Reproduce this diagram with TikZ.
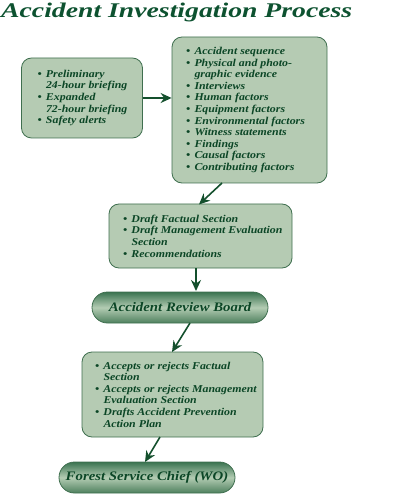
\documentclass[tikz,border=0pt]{standalone}
\usepackage{fontspec}
\setmainfont{Liberation Serif}
\newfontfamily\boxfont[FakeStretch=1.13]{Liberation Serif}
\newfontfamily\pillfont[FakeStretch=1.14]{Liberation Serif}
\newfontfamily\titlefont[FakeStretch=1.15]{Liberation Serif}
\usetikzlibrary{arrows.meta,shapes.misc}
\definecolor{boxfill}{HTML}{B5CBB3}
\definecolor{boxline}{HTML}{3F6F4F}
\definecolor{txtgreen}{HTML}{0B4626}
\definecolor{titlegreen}{HTML}{0D5230}
\definecolor{arrowgreen}{HTML}{14502D}
\definecolor{pilldark}{HTML}{3A7350}
\definecolor{pilllight}{HTML}{B3CCB3}
\definecolor{pillbottom}{HTML}{4E805E}
\newcommand{\bitem}[1]{\par\hangindent=8.5pt\hangafter=1\noindent\makebox[8.5pt][l]{\textbullet}#1}
\newcommand{\boxtext}[2]{\parbox{\dimexpr#1+60pt\relax}{#2}\hspace{-60pt}}
\tikzset{
  infobox/.style={draw=boxline, line width=0.8pt, fill=boxfill, rounded corners=10pt,
    text=txtgreen, font=\boxfont\bfseries\itshape\fontsize{10.5}{11.6}\selectfont,
    align=left, inner sep=0pt, anchor=center},
  pill/.style={rounded rectangle, draw=boxline, line width=0.8pt,
    top color=pilldark, bottom color=pillbottom, middle color=pilllight,
    text=txtgreen, font=\pillfont\bfseries\itshape\fontsize{13}{15}\selectfont,
    inner sep=0pt},
  flow/.style={draw=arrowgreen, line width=1.6pt, -{Stealth[length=11pt,width=10pt]}}
}
\begin{document}
\begin{tikzpicture}[x=1pt,y=-1pt]
\useasboundingbox (0,0) rectangle (407,502);
\node[anchor=base west, text=titlegreen, inner sep=0pt] (title) at (1,17.5)
  {\resizebox{351pt}{14.5pt}{\titlefont\bfseries\itshape Accident Investigation Process}};

\node[infobox, minimum width=121pt, minimum height=80pt] (b1) at (82,98)
  {\boxtext{89pt}{\bitem{Preliminary\\24-hour briefing}\bitem{Expanded\\72-hour briefing}\bitem{Safety alerts}}};
\node[infobox, minimum width=155pt, minimum height=146pt] (b2) at (249.5,110)
  {\boxtext{127pt}{\bitem{Accident sequence}\bitem{Physical and photo-\\graphic evidence}\bitem{Interviews}\bitem{Human factors}\bitem{Equipment factors}\bitem{Environmental factors}\bitem{Witness statements}\bitem{Findings}\bitem{Causal factors}\bitem{Contributing factors}}};
\node[infobox, minimum width=183pt, minimum height=64pt] (b3) at (200.5,236)
  {\boxtext{155pt}{\bitem{Draft Factual Section}\bitem{Draft Management Evaluation\\Section}\bitem{Recommendations}}};
\node[pill, minimum width=176pt, minimum height=31pt] (arb) at (180,307.5)
  {Accident Review Board};
\node[infobox, minimum width=181pt, minimum height=85pt] (b4) at (172.5,394.5)
  {\boxtext{155pt}{\bitem{Accepts or rejects Factual\\Section}\bitem{Accepts or rejects Management\\Evaluation Section}\bitem{Drafts Accident Prevention\\Action Plan}}};
\node[pill, minimum width=176pt, minimum height=31pt] (fsc) at (147,477.5)
  {Forest Service Chief (WO)};

\coordinate (s2) at (222,183);
\coordinate (t2) at (199,204.5);
\coordinate (s3) at (196,268);
\coordinate (t3) at (196,291);
\coordinate (s4) at (190,323);
\coordinate (t4) at (172,352);
\coordinate (s5) at (160,437);
\coordinate (t5) at (145,462);

\draw[flow] (b1.east) -- (b2.west |- b1.east);
\draw[flow] (s2) -- (t2);
\draw[flow] (s3) -- (t3);
\draw[flow] (s4) -- (t4);
\draw[flow] (s5) -- (t5);
\end{tikzpicture}
\end{document}
